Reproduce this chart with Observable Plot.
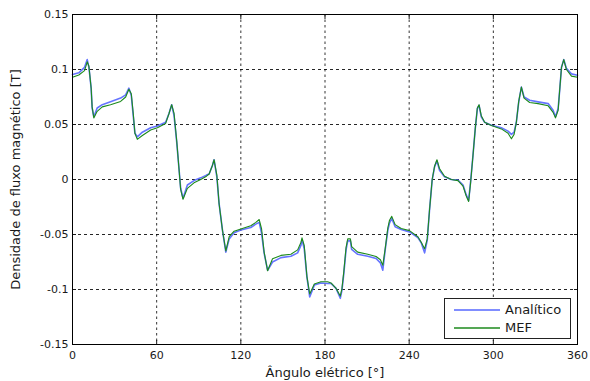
<!DOCTYPE html>
<html>
<head>
<meta charset="utf-8">
<script src="https://cdn.jsdelivr.net/npm/d3@7"></script>
<script src="https://cdn.jsdelivr.net/npm/@observablehq/plot@0.6"></script>
<style>
  html, body { margin: 0; padding: 0; background: #fff; }
  #chart { position: relative; width: 590px; height: 381px; font-family: "DejaVu Sans", sans-serif; }
  #chart svg text { fill: #1a1a1a; }
  #chart svg g[aria-label="x-axis label"] text, #chart svg g[aria-label="y-axis label"] text { font-size: 13px; }
  #legend {
    position: absolute; left: 444px; top: 298px; width: 125px; height: 39px;
    background: #fff; border: 1px solid #222; font-size: 13px; color: #1a1a1a;
  }
  #legend .row { position: absolute; left: 8px; display: flex; align-items: center; line-height: 16px; }
  #legend svg { margin-right: 4px; }
</style>
</head>
<body>
<div id="chart"></div>
<script>
// Electrical angle (degrees)
const angle = [0, 4.5, 8.6, 10.5, 11.7, 13.3, 14.0, 15.2, 17.6, 21.2, 27.1, 34.3, 37.9, 40.2, 41.9, 43.3, 44.5, 46.2, 49.8, 55.7,
  60.5, 66.4, 68.8, 70.7, 72.4, 74.3, 75.9, 77.1, 78.8, 81.9, 86.6, 91.4, 95.5, 97.4, 99.8, 100.9, 102.9, 104.5, 106.9, 109.3,
  111.7, 115.2, 120, 127.1, 130.7, 133.1, 134.8, 136.6, 139.1, 142.6, 148.6, 155.7, 160.5, 162.9, 163.6, 165.2, 167.1, 169.1, 172.4, 177.1,
  181.9, 184.3, 187.9, 190.9, 192.1, 193.4, 195, 196.2, 198.1, 199, 203.3, 210.5, 216.4, 219.5, 221.2, 222.9, 224.8, 226, 227.6, 230,
  234.3, 240.2, 246.2, 248.6, 251, 252.9, 254.5, 256.4, 258.1, 259.8, 261.6, 265.2, 270, 274.8, 278.4, 280.7, 282.4, 283.8, 285.5, 287.1,
  288.6, 289.8, 291.4, 293.8, 298.6, 305.7, 310.5, 312.9, 314.8, 316.4, 318.1, 320, 321.9, 325.9, 331.9, 339.1, 342.6, 344.3, 346.2, 347.4,
  348.6, 350.2, 352.1, 355.7, 360];

// Analytical model (T)
const analitico = [0.0955, 0.097, 0.102, 0.109, 0.102, 0.083, 0.065, 0.057, 0.065, 0.068, 0.0706, 0.074, 0.077, 0.083, 0.0766, 0.058, 0.042, 0.0387, 0.043, 0.047,
  0.0487, 0.052, 0.060, 0.068, 0.058, 0.034, 0.010, -0.008, -0.017, -0.005, -0.001, 0.0015, 0.004, 0.005, 0.013, 0.018, 0.0024, -0.022, -0.046, -0.066,
  -0.054, -0.0485, -0.046, -0.0436, -0.0406, -0.039, -0.049, -0.067, -0.0825, -0.075, -0.071, -0.0697, -0.0667, -0.0597, -0.0545, -0.063, -0.0885, -0.1067, -0.096, -0.0941,
  -0.0945, -0.0945, -0.099, -0.108, -0.1006, -0.0855, -0.064, -0.0558, -0.0558, -0.0636, -0.068, -0.0697, -0.0718, -0.0758, -0.0825, -0.064, -0.046, -0.0395, -0.0355, -0.043,
  -0.0455, -0.0476, -0.0527, -0.0576, -0.0667, -0.055, -0.028, -0.0006, 0.0115, 0.017, 0.0085, 0.0024, 0, -0.0006, -0.005, -0.014, -0.019, -0.002, 0.022, 0.046,
  0.0645, 0.0675, 0.057, 0.052, 0.0494, 0.047, 0.044, 0.041, 0.043, 0.052, 0.0706, 0.084, 0.075, 0.072, 0.0706, 0.069, 0.063, 0.057, 0.0645, 0.0827,
  0.102, 0.109, 0.101, 0.096, 0.0948];

// Finite element model (T)
const mef = [0.093, 0.095, 0.099, 0.107, 0.103, 0.083, 0.066, 0.056, 0.062, 0.066, 0.068, 0.071, 0.075, 0.082, 0.078, 0.060, 0.042, 0.0365, 0.040, 0.045,
  0.047, 0.051, 0.060, 0.068, 0.060, 0.035, 0.010, -0.009, -0.018, -0.008, -0.003, 0.000, 0.003, 0.005, 0.013, 0.018, 0.004, -0.022, -0.046, -0.065,
  -0.052, -0.047, -0.045, -0.042, -0.039, -0.0364, -0.045, -0.066, -0.083, -0.072, -0.069, -0.068, -0.064, -0.057, -0.053, -0.060, -0.088, -0.104, -0.095, -0.093,
  -0.093, -0.094, -0.099, -0.106, -0.099, -0.084, -0.062, -0.054, -0.054, -0.061, -0.066, -0.068, -0.070, -0.073, -0.078, -0.063, -0.044, -0.037, -0.0335, -0.041,
  -0.0445, -0.0465, -0.052, -0.057, -0.063, -0.054, -0.028, 0.000, 0.012, 0.018, 0.010, 0.003, 0.000, -0.001, -0.006, -0.015, -0.020, -0.003, 0.022, 0.046,
  0.065, 0.068, 0.058, 0.052, 0.049, 0.046, 0.042, 0.037, 0.041, 0.052, 0.071, 0.084, 0.074, 0.070, 0.069, 0.067, 0.061, 0.056, 0.063, 0.083,
  0.102, 0.109, 0.100, 0.094, 0.093];

const xTicks = [0, 60, 120, 180, 240, 300, 360];
const yTicks = [-0.15, -0.1, -0.05, 0, 0.05, 0.1, 0.15];
const seriesNames = ["Analítico", "MEF"];
const seriesColors = ["#4a5cff", "#1c8a1c"];

const rowsA = angle.map((a, i) => ({angle: a, b: analitico[i]}));
const rowsM = angle.map((a, i) => ({angle: a, b: mef[i]}));
const fmt = d => String(+d.toFixed(2));
const blank = () => "";

const chart = Plot.plot({
  width: 590,
  height: 381,
  marginLeft: 72,
  marginRight: 13,
  marginTop: 14,
  marginBottom: 37,
  style: {fontFamily: "DejaVu Sans, sans-serif", fontSize: "11px", color: "#1a1a1a", background: "#fff"},
  x: {domain: [0, 360]},
  y: {domain: [-0.15, 0.15]},
  marks: [
    Plot.gridX(xTicks.slice(1, -1), {stroke: "#000", strokeOpacity: 0.8, strokeDasharray: "2.5,3"}),
    Plot.gridY(yTicks.slice(1, -1), {stroke: "#000", strokeOpacity: 0.85, strokeDasharray: "3,3"}),
    Plot.line(rowsA, {x: "angle", y: "b", stroke: seriesColors[0], strokeWidth: 1.6, strokeOpacity: 0.85}),
    Plot.line(rowsM, {x: "angle", y: "b", stroke: seriesColors[1], strokeWidth: 1.1}),
    Plot.axisX(xTicks, {tickSize: -4, tickPadding: 11, tickFormat: d => String(d), label: "Ângulo elétrico [°]", labelAnchor: "center", labelArrow: "none", labelOffset: 32}),
    Plot.axisX(xTicks, {anchor: "top", tickSize: -4, tickFormat: blank, label: null}),
    Plot.axisY(yTicks, {tickSize: -4, tickPadding: 8, tickFormat: fmt, label: "Densidade de fluxo magnético [T]", labelAnchor: "center", labelArrow: "none", labelOffset: 62}),
    Plot.axisY(yTicks, {anchor: "right", tickSize: -4, tickFormat: blank, label: null}),
    Plot.frame({stroke: "#000", strokeWidth: 1})
  ]
});

const host = document.getElementById("chart");
host.appendChild(chart);

// Legend box drawn inside the axes, lower-right corner
const legend = document.createElement("div");
legend.id = "legend";
seriesNames.forEach((name, i) => {
  const row = document.createElement("div");
  row.className = "row";
  row.style.top = (i === 0 ? 3 : 21) + "px";
  row.innerHTML = `<svg width="48" height="16"><line x1="1" x2="47" y1="8" y2="8" stroke="${seriesColors[i]}" stroke-width="${i === 0 ? 2 : 1.3}" stroke-opacity="${i === 0 ? 0.7 : 1}"/></svg><span>${name}</span>`;
  legend.appendChild(row);
});
host.appendChild(legend);
</script>
</body>
</html>
